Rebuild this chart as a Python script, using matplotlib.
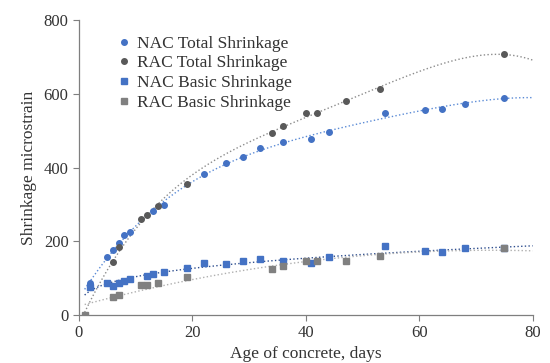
import numpy as np
import matplotlib
matplotlib.use("Agg")
import matplotlib.pyplot as plt

plt.rcParams['font.family'] = ['Liberation Serif', 'DejaVu Serif']

# NAC total shrinkage
nac_tot_x = [2, 5, 6, 7, 8, 9, 13, 15, 22, 26, 29, 32, 36, 41, 44, 54, 61, 64, 68, 75]
nac_tot_y = [88, 157, 175, 195, 216, 225, 282, 298, 383, 412, 428, 453, 468, 477, 495, 548, 557, 558, 573, 589]
# RAC total shrinkage
rac_tot_x = [1, 6, 7, 11, 12, 14, 19, 34, 36, 40, 42, 47, 53, 75]
rac_tot_y = [0, 145, 185, 260, 271, 296, 355, 493, 513, 548, 549, 579, 613, 707]
# NAC basic shrinkage
nac_bas_x = [2, 5, 6, 7, 8, 9, 12, 13, 15, 19, 22, 26, 29, 32, 36, 41, 44, 54, 61, 64, 68, 75]
nac_bas_y = [77, 86, 79, 86, 93, 99, 107, 110, 116, 128, 141, 137, 146, 152, 147, 141, 157, 187, 174, 172, 181, 183]
# RAC basic shrinkage
rac_bas_x = [1, 6, 7, 11, 12, 14, 19, 34, 36, 40, 42, 47, 53, 75]
rac_bas_y = [0, 49, 54, 81, 82, 88, 102, 124, 133, 147, 146, 147, 160, 183]

blue = '#4472C4'
dgrey = '#595959'
grey = '#808080'

fig = plt.figure(figsize=(5.5, 3.63), dpi=100)
ax = fig.add_axes([0.1436, 0.1322, 0.8249, 0.8127])

xs = np.linspace(1, 80, 300)

# trendlines fitted from the data
p = np.polyfit(nac_tot_x, nac_tot_y, 4)
ax.plot(xs, np.polyval(p, xs), ':', color='#5B8BD6', lw=1.0, zorder=1)
p = np.polyfit(rac_tot_x, rac_tot_y, 4)
ax.plot(xs, np.polyval(p, xs), ':', color='#8C8C8C', lw=1.0, zorder=1)
p = np.polyfit(np.log(nac_bas_x), np.log(nac_bas_y), 1)
ax.plot(xs, np.exp(np.polyval(p, np.log(xs))), ':', color='#2F4F8F', lw=1.0, zorder=1)
p = np.polyfit(rac_bas_x, rac_bas_y, 2)
ax.plot(xs, np.polyval(p, xs), ':', color='#B0B0B0', lw=1.0, zorder=1)

ax.plot(nac_tot_x, nac_tot_y, 'o', color=blue, ms=4, label='NAC Total Shrinkage', zorder=3)
ax.plot(rac_tot_x, rac_tot_y, 'o', color=dgrey, ms=4, label='RAC Total Shrinkage', zorder=3)
ax.plot(nac_bas_x, nac_bas_y, 's', color=blue, ms=4, label='NAC Basic Shrinkage', zorder=3)
ax.plot(rac_bas_x, rac_bas_y, 's', color=grey, ms=4, label='RAC Basic Shrinkage', zorder=4)

ax.set_xlim(0, 80)
ax.set_ylim(0, 800)
ax.set_xticks([0, 20, 40, 60, 80])
ax.set_yticks([0, 200, 400, 600, 800])
for s in ['top', 'right']:
    ax.spines[s].set_visible(False)
for s in ['left', 'bottom']:
    ax.spines[s].set_color('#7F7F7F')
    ax.spines[s].set_linewidth(0.9)
ax.tick_params(direction='out', length=4, color='#7F7F7F', labelsize=12, labelcolor='#333333')

ax.set_xlabel('Age of concrete, days', fontsize=12.5, color='#333333', labelpad=3)
ax.set_ylabel('Shrinkage microstrain', fontsize=12.5, color='#333333', labelpad=5)

ax.legend(loc='upper left', bbox_to_anchor=(0.05, 1.0), frameon=False, fontsize=12.5,
          handlelength=0.8, handletextpad=0.35, labelspacing=0.2, labelcolor='#333333')

fig.savefig('out.png', dpi=100)
